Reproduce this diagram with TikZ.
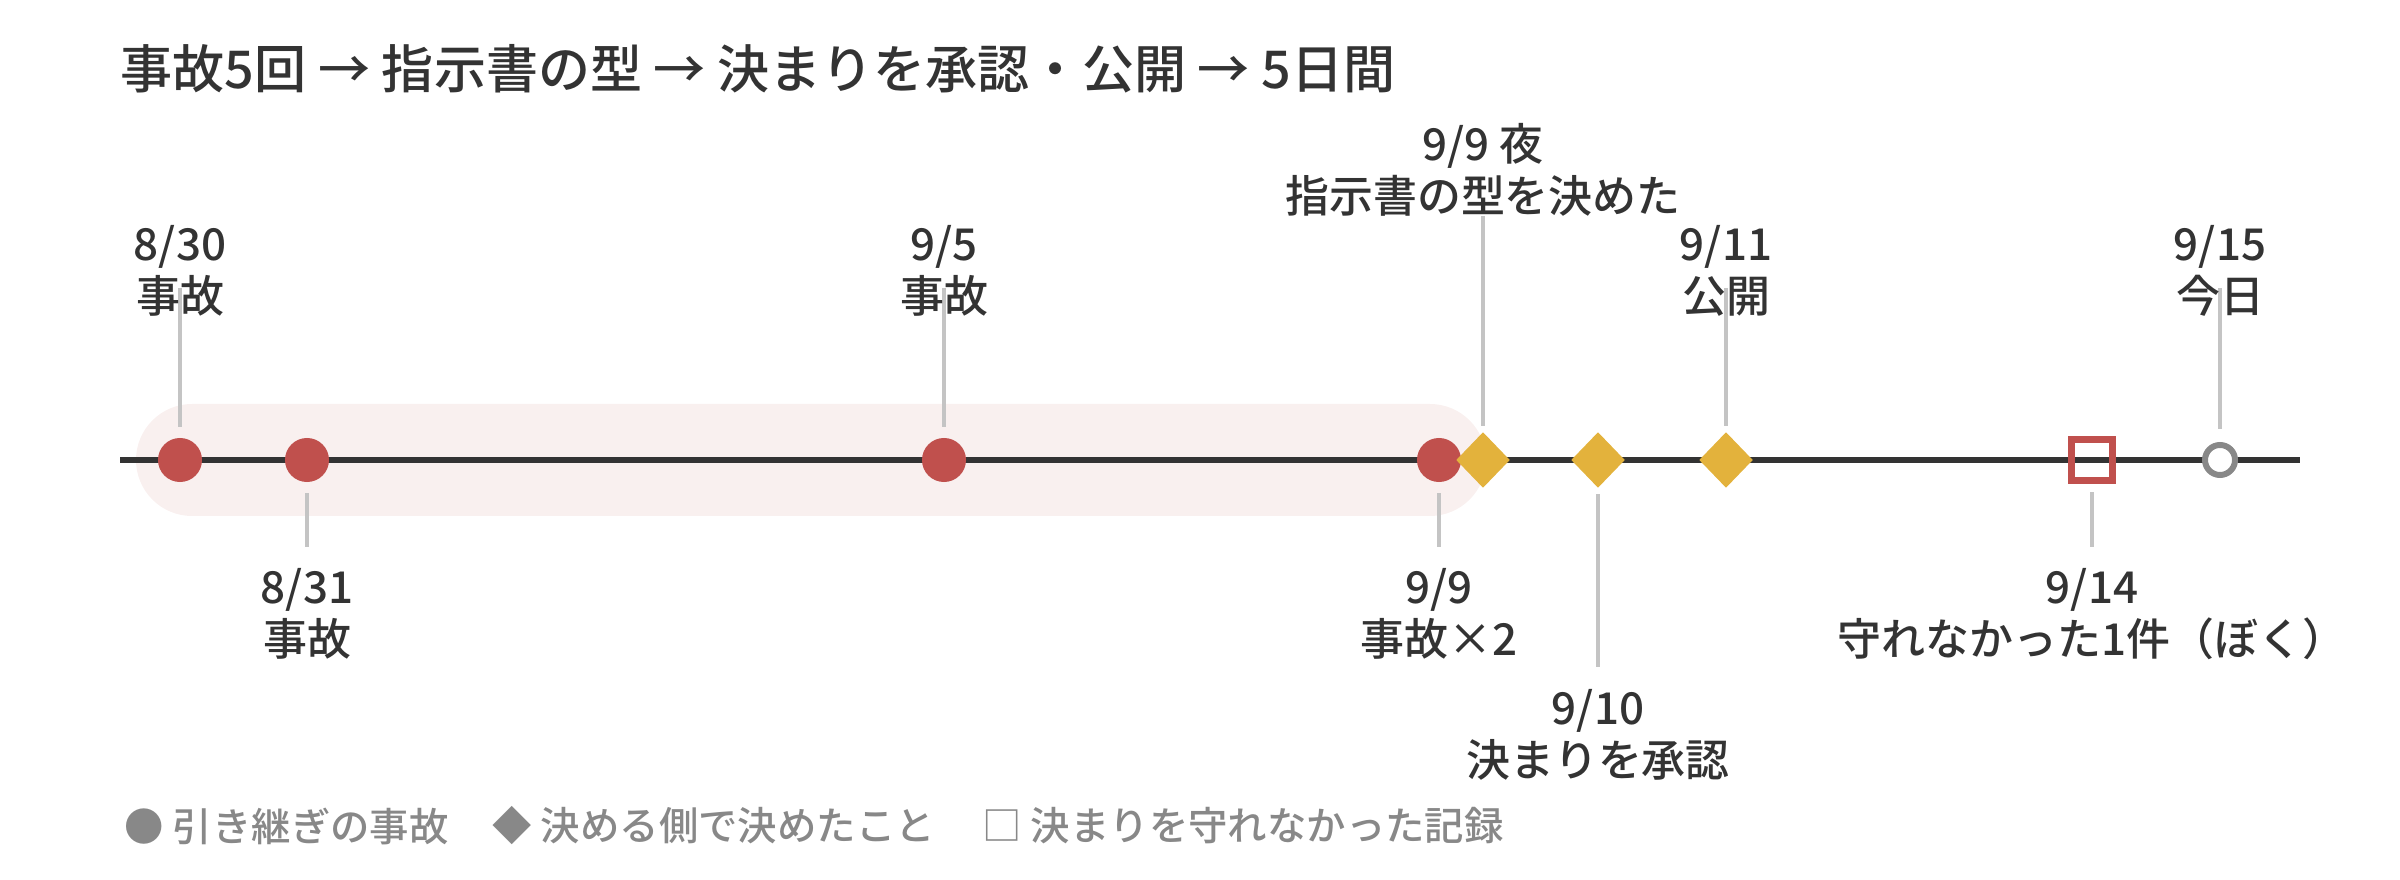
\documentclass[tikz,border=0pt]{standalone}
\usepackage{fontspec}
\setmainfont{Noto Sans CJK JP Medium}
\usetikzlibrary{shapes.geometric,positioning}
\definecolor{ink}{HTML}{333333}
\definecolor{accred}{HTML}{C0504D}
\definecolor{decgold}{HTML}{E3B23C}
\definecolor{bandpink}{HTML}{F9F0EF}
\definecolor{stemgray}{HTML}{C4C4C4}
\definecolor{leggray}{HTML}{888888}

\begin{document}
\begin{tikzpicture}[x=0.01cm,y=-0.01cm,
		lbl/.style={align=center,inner sep=0pt,text=ink,font=\fontsize{12.5}{14.8}\selectfont},
		acc/.style={circle,fill=accred,minimum size=0.44cm,inner sep=0pt},
		dec/.style={diamond,fill=decgold,minimum width=0.54cm,minimum height=0.56cm,inner sep=0pt},
		miss/.style={rectangle,draw=accred,line width=2pt,minimum size=0.41cm,inner sep=0pt},
		today/.style={circle,draw=leggray,fill=white,line width=1.7pt,minimum size=0.30cm,inner sep=0pt},
		stem/.style={draw=stemgray,line width=1.1pt,shorten >=0.1cm,shorten <=-0.2cm},
		leg/.style={anchor=west,inner sep=0pt,text=leggray,font=\fontsize{11.2}{13}\selectfont}]
	\useasboundingbox (0,0) rectangle (2400,880);

	% axis and band
	\fill[bandpink,rounded corners=0.56cm] (136,404) rectangle (1486,516);
	\coordinate (axl) at (120,460);
	\coordinate (axr) at (2300,460);
	\draw[ink,line width=1.7pt] (axl) -- (axr);

	% markers
	\node[acc] (e0830) at (180,460) {};
	\node[acc] (e0831) at (307,460) {};
	\node[acc] (e0905) at (944,460) {};
	\node[acc] (e0909) at (1439,460) {};
	\node[dec] (d0909) at (1483,460) {};
	\node[dec] (d0910) at (1598,460) {};
	\node[dec] (d0911) at (1726,460) {};
	\node[miss] (m0914) at (2092,460) {};
	\node[today] (t0915) at (2220,460) {};

	% stems, behind the labels
	\coordinate (s0830) at (180,288);
	\coordinate (s0831) at (307,547);
	\coordinate (s0905) at (944,288);
	\coordinate (s0909) at (1439,547);
	\coordinate (r0909) at (1483,216);
	\coordinate (r0910) at (1598,667);
	\coordinate (r0911) at (1726,288);
	\coordinate (s0914) at (2092,547);
	\coordinate (s0915) at (2220,288);
	\path[stem,shorten <=0pt]
	(s0830) edge (e0830)
	(s0831) edge (e0831)
	(s0905) edge (e0905)
	(s0909) edge (e0909)
	(r0909) edge[shorten >=0.05cm] (d0909)
	(r0910) edge[shorten >=0.05cm] (d0910)
	(r0911) edge[shorten >=0.05cm] (d0911)
	(s0914) edge[shorten >=0.08cm] (m0914)
	(s0915) edge[shorten >=0.13cm] (t0915);

	% labels
	\node[anchor=west,inner sep=0pt,text=ink,font=\fontsize{14.8}{18}\selectfont] (title) at (120,69)
		{事故5回 → 指示書の型 → 決まりを承認・公開 → 5日間};
	\node[lbl,anchor=south] (l0830) at (180,317) {8/30\\事故};
	\node[lbl,anchor=north] (l0831) at (307,568) {8/31\\事故};
	\node[lbl,anchor=south] (l0905) at (944,317) {9/5\\事故};
	\node[lbl,anchor=north] (l0909) at (1439,568) {9/9\\事故×2};
	\node[lbl,anchor=south] (k0909) at (1483,217) {9/9 夜\\指示書の型を決めた};
	\node[lbl,anchor=north] (k0910) at (1598,689) {9/10\\決まりを承認};
	\node[lbl,anchor=south] (k0911) at (1726,317) {9/11\\公開};
	\node[lbl,anchor=north] (l0914) at (2092,568) {9/14\\守れなかった1件（ぼく）};
	\node[lbl,anchor=south] (l0915) at (2220,317) {9/15\\今日};

	% legend
	\node[leg] (g1) at (124,826) {● 引き継ぎの事故};
	\node[leg] (g2) at (492,826) {◆ 決める側で決めたこと};
	\node[leg] (g3) at (982,826) {□ 決まりを守れなかった記録};
\end{tikzpicture}
\end{document}
